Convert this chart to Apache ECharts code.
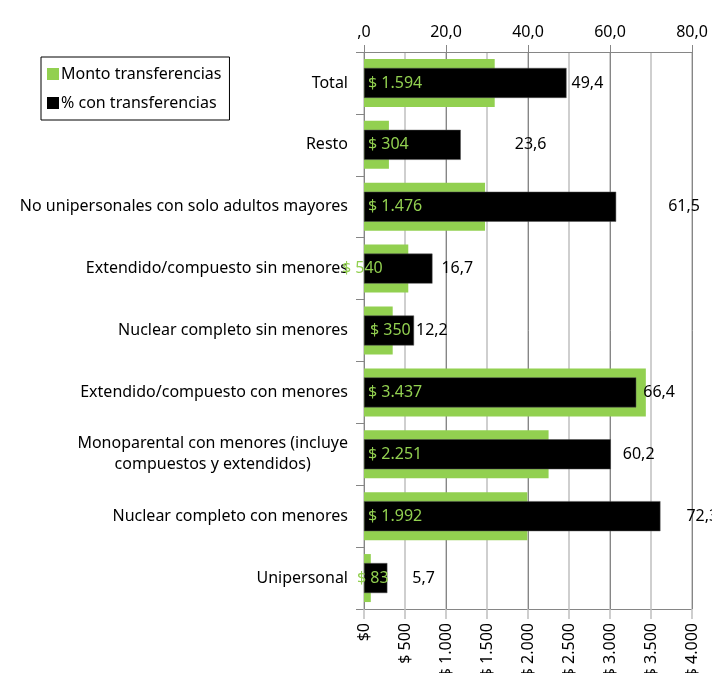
<!DOCTYPE html>
<html>
<head>
<meta charset="utf-8">
<script src="https://cdn.jsdelivr.net/npm/echarts@6/dist/echarts.min.js"></script>
<style>
  html, body { margin: 0; padding: 0; background: #fff; }
  #chart { width: 712px; height: 673px; }
</style>
</head>
<body>
<div id="chart"></div>
<script>
// categories, top to bottom
var categories = [
  'Total',
  'Resto',
  'No unipersonales con solo adultos mayores',
  'Extendido/compuesto sin menores',
  'Nuclear completo sin menores',
  'Extendido/compuesto con menores',
  'Monoparental con menores (incluye\ncompuestos y extendidos)',
  'Nuclear completo con menores',
  'Unipersonal'
];
var montoValues = [1594, 304, 1476, 540, 350, 3437, 2251, 1992, 83];
var pctValues = [49.4, 23.6, 61.5, 16.7, 12.2, 66.4, 60.2, 72.3, 5.7];
var pctTicks = [0, 20, 40, 60, 80];
var montoTicks = [0, 500, 1000, 1500, 2000, 2500, 3000, 3500, 4000];

// label nudges (px), as placed in the original
var pctLabelGap = [5, 54, 52, 9, 2, 7, 12, 26, 25];
var montoLabelShift = [0, 0, 0, -26, 2, 0, 0, 0, -11];

var FONT = '"Noto Sans", "Open Sans", sans-serif';
var GREEN = '#92D050';

function fmtMoney(v) {
  return '$ ' + String(v).replace(/\B(?=(\d{3})+(?!\d))/g, '.');
}
function fmtPct(v) {
  var s = v.toFixed(1).replace('.', ',');
  return s.charAt(0) === '0' ? s.slice(1) : s;
}

var chart = echarts.init(document.getElementById('chart'));

chart.setOption({
  animation: false,
  textStyle: { fontFamily: FONT },
  legend: {
    data: ['Monto transferencias', '% con transferencias'],
    orient: 'vertical',
    left: 41,
    top: 57,
    padding: [9, 8, 9, 6],
    itemGap: 13,
    itemWidth: 12,
    itemHeight: 12,
    icon: 'rect',
    itemStyle: { borderWidth: 0 },
    borderColor: '#000',
    borderWidth: 1,
    borderRadius: 0,
    textStyle: { fontSize: 16, color: '#000', fontFamily: FONT, padding: [0, 0, 0, -3] }
  },
  grid: { left: 364, right: 20, top: 52, bottom: 64, containLabel: false, outerBoundsMode: 'none' },
  xAxis: [
    {
      type: 'value',
      position: 'bottom',
      min: montoTicks[0],
      max: montoTicks[montoTicks.length - 1],
      interval: montoTicks[1] - montoTicks[0],
      axisLine: { show: false },
      axisTick: { show: true, length: 10, lineStyle: { color: '#bfbfbf', width: 1.5 } },
      splitLine: { show: true, lineStyle: { color: '#bfbfbf', width: 1.5 } },
      axisLabel: {
        rotate: 90,
        margin: 14,
        fontSize: 16,
        color: '#000',
        fontFamily: FONT,
        formatter: function (v) { return v === 0 ? '$0' : fmtMoney(v); }
      }
    },
    {
      type: 'value',
      position: 'top',
      min: pctTicks[0],
      max: pctTicks[pctTicks.length - 1],
      interval: pctTicks[1] - pctTicks[0],
      axisLine: { show: true, lineStyle: { color: '#868686', width: 1 } },
      axisTick: { show: true, length: 7, lineStyle: { color: '#868686' } },
      splitLine: { show: true, lineStyle: { color: '#868686', width: 1 } },
      axisLabel: {
        margin: 12,
        fontSize: 16,
        color: '#000',
        fontFamily: FONT,
        formatter: function (v) { return fmtPct(v); }
      }
    }
  ],
  yAxis: [
    {
      type: 'category',
      inverse: true,
      data: categories,
      axisLine: { show: true, lineStyle: { color: '#868686' } },
      axisTick: { show: true, length: 8, lineStyle: { color: '#868686' } },
      splitLine: {
        show: true,
        interval: function (i) { return i === 0; },
        lineStyle: { color: '#868686', width: 1 }
      },
      axisLabel: {
        margin: 16,
        fontSize: 16,
        color: '#000',
        fontFamily: FONT,
        formatter: function (v) {
          return v.split('\n').map(function (s) { return '{c|' + s + '}'; }).join('\n');
        },
        rich: { c: { align: 'center', fontSize: 16, color: '#000', fontFamily: FONT, lineHeight: 21 } }
      }
    },
    { type: 'category', inverse: true, data: categories, show: false },
    { type: 'category', inverse: true, data: categories, show: false }
  ],
  series: [
    {
      name: 'Monto transferencias',
      type: 'bar',
      xAxisIndex: 0,
      yAxisIndex: 0,
      barWidth: 48,
      itemStyle: { color: GREEN },
      data: montoValues,
      z: 2
    },
    {
      name: '% con transferencias',
      type: 'bar',
      xAxisIndex: 1,
      yAxisIndex: 1,
      barWidth: 30,
      itemStyle: { color: '#000', borderColor: '#555', borderWidth: 0.5 },
      data: pctValues.map(function (v, i) {
        return { value: v, label: { distance: pctLabelGap[i] } };
      }),
      label: {
        show: true,
        position: 'right',
        fontSize: 16,
        color: '#000',
        fontFamily: FONT,
        formatter: function (p) { return fmtPct(p.value); }
      },
      z: 3
    },
    {
      name: 'Monto etiqueta',
      type: 'bar',
      xAxisIndex: 0,
      yAxisIndex: 2,
      barWidth: 30,
      silent: true,
      itemStyle: { color: 'rgba(0,0,0,0)' },
      data: montoValues.map(function (v, i) {
        return { value: v, label: { offset: [montoLabelShift[i], 0] } };
      }),
      label: {
        show: true,
        position: 'insideLeft',
        distance: 4,
        fontSize: 16,
        color: GREEN,
        fontFamily: FONT,
        formatter: function (p) { return fmtMoney(p.value); }
      },
      z: 5
    }
  ]
});
</script>
</body>
</html>
